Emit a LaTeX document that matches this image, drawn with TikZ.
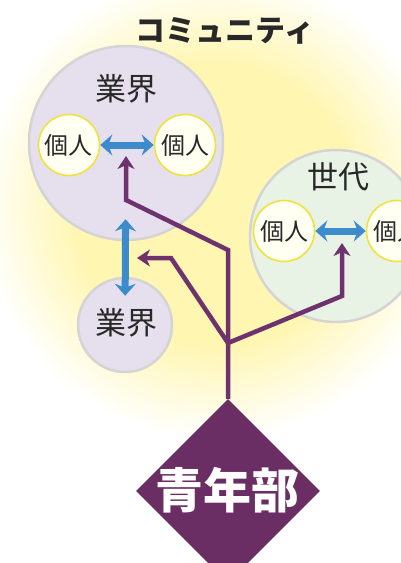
\documentclass[tikz,border=0pt]{standalone}
\usepackage{fontspec}
\newfontfamily\cjk{Noto Sans CJK JP}
\usetikzlibrary{shapes.geometric,arrows.meta}
\definecolor{glowc}{RGB}{255,246,178}
\definecolor{lav}{RGB}{230,224,238}
\definecolor{mint}{RGB}{232,243,230}
\definecolor{cream}{RGB}{255,255,242}
\definecolor{ringy}{RGB}{240,226,60}
\definecolor{abl}{RGB}{60,140,203}
\definecolor{pur}{RGB}{110,50,110}
\definecolor{dia}{RGB}{106,46,100}
\definecolor{txt}{RGB}{40,40,40}
\pgfdeclareradialshading{glow}{\pgfpoint{0bp}{0bp}}{color(0bp)=(glowc); color(15bp)=(glowc); color(25bp)=(white); color(50bp)=(white)}
\tikzset{
  group/.style={circle, fill=#1, draw=black!17, line width=2.5pt, inner sep=0pt},
  person/.style={circle, fill=cream, draw=ringy, line width=1.6pt, minimum size=61pt, inner sep=0pt, font=\cjk\fontsize{24}{24}\selectfont, text=txt},
  glabel/.style={font=\cjk\fontsize{31}{31}\selectfont, text=txt, inner sep=0pt},
  barrow/.style={draw=abl, line width=7pt, {Stealth[length=12pt,width=21pt,inset=4pt]}-{Stealth[length=12pt,width=21pt,inset=4pt]}},
  parrow/.style={draw=pur, line width=4.5pt, line join=miter, -{Stealth[length=13pt,width=17pt,inset=4pt]}}
}
\begin{document}
\begin{tikzpicture}[x=1pt,y=-1pt]
\useasboundingbox (0,0) rectangle (401,563);
\clip (0,0) rectangle (401,563);
\fill[white] (0,0) rectangle (401,563);
\shade[shading=glow] (215,205) circle (235);
% title
\node[font=\cjk\bfseries\fontsize{30}{30}\selectfont, text=txt, inner sep=0pt] (title) at (225,31) {コミュニティ};
% groups
\node[group=lav, minimum size=194pt] (g1) at (126,143) {};
\node[glabel] (g1l) at (126,89) {業界};
\node[group=mint, minimum size=172pt] (g3) at (336,236) {};
\node[glabel] (g3l) at (338,177) {世代};
\node[group=lav, minimum size=94pt] (g2) at (125,325) {};
\node[glabel] (g2l) at (126,323) {業界};
% persons
\node[person] (p1) at (69,145) {個人};
\node[person] (p2) at (185,145) {個人};
\node[person] (p3) at (284,231) {個人};
\node[person] (p4) at (397,231) {個人};
% blue arrows
\draw[barrow] (p1) -- (p2);
\draw[barrow] (p3) -- (p4);
\draw[barrow, shorten <=-22pt, shorten >=-19pt] (g1) -- (g2);
% diamond
\node[diamond, fill=dia, minimum width=184pt, minimum height=184pt, inner sep=0pt] (seinen) at (228,491) {};
\node[font=\cjk\bfseries\fontsize{48}{48}\selectfont, text=white, inner sep=0pt] (seinenl) at (227,490) {青年部};
% purple connectors
\coordinate (j1) at (228,250);
\coordinate (b1) at (126,200);
\coordinate (t1) at (126,156);
\coordinate (j2) at (228,343);
\coordinate (b2) at (171,258);
\coordinate (t2) at (137,258);
\coordinate (b3) at (342,296);
\coordinate (t3) at (342,243);
\draw[parrow] (seinen.north) -- (j1) -- (b1) -- (t1);
\draw[parrow] (j2) -- (b2) -- (t2);
\draw[parrow] (j2) -- (b3) -- (t3);
\end{tikzpicture}
\end{document}
